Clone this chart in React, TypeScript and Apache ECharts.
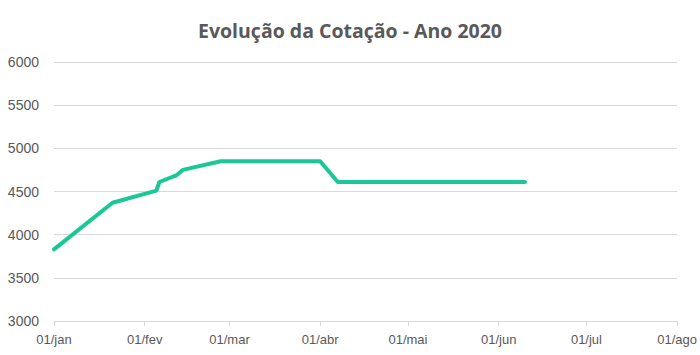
import React, { useEffect, useRef } from "react";
import * as echarts from "echarts";

const dates = [
  "2020-01-01", "2020-01-21", "2020-02-05", "2020-02-06", "2020-02-12",
  "2020-02-14", "2020-02-27", "2020-04-01", "2020-04-07", "2020-06-10",
];
const values = [3830, 4370, 4510, 4610, 4690, 4750, 4850, 4850, 4610, 4610];
const monthStarts = [
  "2020-01-01", "2020-02-01", "2020-03-01", "2020-04-01",
  "2020-05-01", "2020-06-01", "2020-07-01", "2020-08-01",
];
const monthNames = ["jan", "fev", "mar", "abr", "mai", "jun", "jul", "ago"];
const titleText = "Evolução da Cotação - Ano 2020";

const ts = (s: string) => new Date(s + "T00:00:00Z").getTime();

export default function App() {
  const ref = useRef<HTMLDivElement>(null);
  useEffect(() => {
    document.body.style.margin = "0";
    const chart = echarts.init(ref.current!, null, { renderer: "svg" });
    const ticks = monthStarts.map(ts);
    chart.setOption({
      animation: false,
      backgroundColor: "#ffffff",
      title: {
        text: titleText,
        left: "center",
        top: 15,
        textStyle: {
          fontFamily: "Open Sans",
          fontWeight: "bold",
          fontSize: 19.5,
          color: "#595959",
        },
      },
      grid: { left: 54, right: 20, top: 62, bottom: 34 },
      xAxis: {
        type: "value",
        min: ticks[0],
        max: ticks[ticks.length - 1],
        axisLine: { show: true, lineStyle: { color: "#d9d9d9" } },
        axisTick: {
          show: true,
          length: 5,
          lineStyle: { color: "#d9d9d9" },
          customValues: ticks,
        },
        axisLabel: {
          customValues: ticks,
          color: "#595959",
          fontSize: 13,
          fontFamily: "Liberation Sans",
          margin: 12,
          formatter: (v: number) => {
            const i = ticks.indexOf(v);
            return "01/" + (i >= 0 ? monthNames[i] : "");
          },
        },
        splitLine: { show: false },
      },
      yAxis: {
        type: "value",
        min: 3000,
        max: 6000,
        interval: 500,
        axisLine: { show: false },
        axisTick: { show: false },
        axisLabel: {
          color: "#595959",
          fontSize: 14,
          fontFamily: "Liberation Sans",
          margin: 15,
          formatter: (v: number) => String(v),
        },
        splitLine: { lineStyle: { color: "#d9d9d9" } },
      },
      series: [
        {
          type: "line",
          data: dates.map((d, i) => [ts(d), values[i]]),
          showSymbol: false,
          lineStyle: { color: "#1cc796", width: 4, cap: "round", join: "round" },
          itemStyle: { color: "#1cc796" },
        },
      ],
    });
    return () => chart.dispose();
  }, []);
  return <div ref={ref} style={{ width: 700, height: 355 }} />;
}
